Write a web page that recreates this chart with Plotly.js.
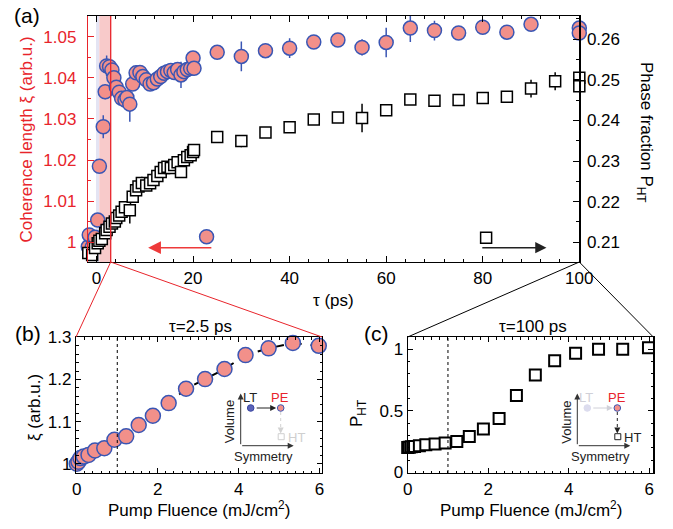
<!DOCTYPE html>
<html>
<head>
<meta charset="utf-8">
<script src="https://cdn.plot.ly/plotly-3.0.1.min.js"></script>
<style>html,body{margin:0;padding:0;background:#fff;}#plot{width:673px;height:529px;}</style>
</head>
<body>
<div id="plot"></div>
<script>
// ---------- data: panel (a) ----------
var tauCircle = [-1.7,-1.5,-0.9,-0.3,0.25,0.6,1.4,1.8,2.1,2.7,3.2,3.6,4.1,4.7,5.2,5.9,6.3,6.9,7.5,8.2,9.0,9.6,10.3,11.1,11.8,12.6,13.3,14.0,14.7,15.4,16.1,16.8,17.5,18.1,18.8,19.5,20.0,20.2,25,30,35,40,45,50,55,60,65,70,75,80,85,90,100,100];
var xiTau = [0.9989,1.0018,0.9988,1.0012,1.0054,1.0185,1.0281,1.0366,1.0429,1.0427,1.0419,1.0400,1.0377,1.0365,1.0350,1.0346,1.0352,1.0336,1.0385,1.0412,1.0413,1.0403,1.0395,1.0385,1.0388,1.0397,1.0403,1.0411,1.0415,1.0418,1.0413,1.0420,1.0407,1.0415,1.0420,1.0423,1.0448,1.0423,1.0462,1.0452,1.0466,1.0472,1.0487,1.0492,1.0474,1.0486,1.0521,1.0515,1.0509,1.0523,1.0511,1.0530,1.0521,1.0509];
var xiTauErr = [0,0,0,0,0,0,0.0028,0.0018,0.0025,0.0012,0,0,0,0,0,0,0.0008,0.0043,0,0.0018,0,0,0,0,0,0,0,0,0,0,0,0,0.0032,0,0,0,0,0,0.0006,0.0036,0.0012,0.0024,0.0006,0.0005,0.002,0.0036,0.0034,0.0024,0,0.0012,0,0,0,0];

var tauSquare = [-1.7,-0.9,-0.3,0.25,0.6,1.1,1.8,2.1,2.7,3.2,3.8,4.1,4.7,5.2,5.9,6.9,7.5,8.2,8.7,9.4,10.3,11.1,11.8,12.6,13.3,14.0,14.7,15.4,16.1,16.8,17.5,18.1,18.8,19.5,20.0,20.2,25,30,35,40,45,50,55,60,65,70,75,80,85,90,95,100,100];
var pTau = [0.2074,0.2069,0.2086,0.2098,0.2104,0.2108,0.2122,0.2130,0.2138,0.2146,0.2151,0.2160,0.2166,0.2175,0.2186,0.2179,0.2212,0.2228,0.2237,0.2246,0.2240,0.2245,0.2253,0.2263,0.2273,0.2283,0.2286,0.2283,0.2290,0.2297,0.2273,0.2302,0.2310,0.2314,0.2322,0.2327,0.2359,0.2349,0.2370,0.2383,0.2402,0.2407,0.2406,0.2425,0.2451,0.2448,0.2450,0.2455,0.2458,0.2478,0.2496,0.2505,0.2484];
var pTauErr = [0,0,0,0,0,0,0,0,0,0,0,0,0,0,0,0.0033,0,0,0,0.0015,0,0,0,0,0,0,0,0,0,0,0,0,0,0,0,0,0,0.0015,0,0,0,0.001,0.0035,0.001,0,0,0,0,0,0.0022,0.0022,0,0];

// legend keys in panel (a)
var keyCircle = {tau:[22.8], xi:[1.00136]};
var keySquare = {tau:[80.7], p:[0.2111]};

// ---------- data: panels (b) and (c) ----------
var fluence = [0,0.04,0.09,0.17,0.29,0.45,0.68,0.93,1.22,1.53,1.88,2.27,2.70,3.17,3.65,4.17,4.74,5.34,5.98];
var xiFluence = [1.000,1.005,1.0135,1.017,1.021,1.0315,1.037,1.057,1.065,1.092,1.114,1.144,1.178,1.201,1.225,1.258,1.274,1.287,1.280];
var pFluence = [0.203,0.205,0.208,0.211,0.216,0.224,0.230,0.238,0.251,0.292,0.352,0.437,0.624,0.792,0.908,0.967,1.0,1.0,1.013];

// tick labels
var tauTicks = [0,20,40,60,80,100];
var xiTicks = [1,1.01,1.02,1.03,1.04,1.05];
var xiTickText = ['1','1.01','1.02','1.03','1.04','1.05'];
var pTicks = [0.21,0.22,0.23,0.24,0.25,0.26];
var pTickText = ['0.21','0.22','0.23','0.24','0.25','0.26'];
var flTicks = [0,2,4,6];
var xiFlTicks = [1,1.1,1.2,1.3];
var xiFlTickText = ['1','1.1','1.2','1.3'];
var pFlTicks = [0,0.5,1];
var pFlTickText = ['0','0.5','1'];

// ---------- styling ----------
var W = 673, H = 529;
function fx(px){return px/W;}
function fy(py){return 1-py/H;}
var FONT = 'Liberation Sans, Arial, Helvetica, sans-serif';
var RED = '#e8242b';
var SALMON = '#f2908a';
var BLUE = '#3a56b4';

var boxA = {l:88, r:579.3, t:16, b:262};
var boxB = {l:76, r:322, t:337, b:473};
var boxC = {l:407.7, r:653.3, t:337, b:473};

var traces = [
  {x: tauSquare, y: pTau, xaxis:'x', yaxis:'y2', type:'scatter', mode:'markers', cliponaxis:false,
   marker:{symbol:'square', size:11, color:'white', line:{color:'black', width:1.5}},
   error_y:{type:'data', array:pTauErr, visible:true, color:'black', thickness:1.5, width:0}},
  {x: tauCircle, y: xiTau, xaxis:'x', yaxis:'y', type:'scatter', mode:'markers', cliponaxis:false,
   marker:{symbol:'circle', size:14, color:SALMON, line:{color:BLUE, width:1.5}},
   error_y:{type:'data', array:xiTauErr, visible:true, color:BLUE, thickness:1.5, width:0}},
  {x: keyCircle.tau, y: keyCircle.xi, xaxis:'x', yaxis:'y', type:'scatter', mode:'markers',
   marker:{symbol:'circle', size:14, color:SALMON, line:{color:BLUE, width:1.5}}},
  {x: keySquare.tau, y: keySquare.p, xaxis:'x', yaxis:'y2', type:'scatter', mode:'markers',
   marker:{symbol:'square', size:11, color:'white', line:{color:'black', width:1.5}}},
  {x: fluence, y: xiFluence, xaxis:'x2', yaxis:'y3', type:'scatter', mode:'lines+markers', cliponaxis:false,
   line:{color:'black', width:2, dash:'dash'},
   marker:{symbol:'circle', size:15, color:SALMON, line:{color:BLUE, width:1.5}}},
  {x: fluence, y: pFluence, xaxis:'x3', yaxis:'y4', type:'scatter', mode:'markers', cliponaxis:false,
   marker:{symbol:'square', size:11, color:'white', line:{color:'black', width:2}}}
];

var tickFont = {family:FONT, size:17, color:'black'};
function boxAxis(extra){
  var a = {showline:true, linecolor:'black', linewidth:1.2, mirror:'ticks', ticks:'inside',
    ticklen:5, tickwidth:1, tickcolor:'black', showgrid:false, zeroline:false, tickfont:tickFont,
    minor:{ticks:'inside', ticklen:2.5, tickcolor:'black'}};
  for (var k in extra) a[k] = extra[k];
  return a;
}

var layout = {
  width:W, height:H, autosize:false, showlegend:false,
  margin:{l:0, r:0, t:0, b:0}, paper_bgcolor:'white', plot_bgcolor:'rgba(0,0,0,0)',
  font:{family:FONT, size:17, color:'black'},
  xaxis: boxAxis({domain:[fx(boxA.l), fx(boxA.r)], anchor:'y', range:[-1.76,100],
    tickvals:tauTicks, ticklen:6, minor:{ticks:'inside', dtick:4, ticklen:3, tickcolor:'black'}}),
  yaxis: {domain:[fy(boxA.b), fy(boxA.t)], anchor:'x', range:[0.99521,1.05503],
    showline:true, linecolor:RED, linewidth:1.2, ticks:'inside', ticklen:6, tickcolor:RED,
    tickvals:xiTicks, ticktext:xiTickText, tickfont:{family:FONT, size:17, color:RED}, ticklabelstandoff:7,
    minor:{ticks:'inside', dtick:0.005, ticklen:3, tickcolor:RED},
    showgrid:false, zeroline:false},
  yaxis2: {overlaying:'y', side:'right', anchor:'x', range:[0.20516,0.26566],
    showline:true, linecolor:'black', linewidth:1.2, ticks:'inside', ticklen:6, tickcolor:'black',
    tickvals:pTicks, ticktext:pTickText, tickfont:tickFont, ticklabelstandoff:3,
    minor:{ticks:'inside', dtick:0.005, ticklen:3, tickcolor:'black'},
    showgrid:false, zeroline:false},
  xaxis2: boxAxis({domain:[fx(boxB.l), fx(boxB.r)], anchor:'y3', range:[-0.02,6.06], tickvals:flTicks,
    minor:{ticks:'inside', dtick:0.2, ticklen:2.5, tickcolor:'black'}}),
  yaxis3: boxAxis({domain:[fy(boxB.b), fy(boxB.t)], anchor:'x2', range:[0.978,1.301],
    tickvals:xiFlTicks, ticktext:xiFlTickText,
    minor:{ticks:'inside', dtick:0.02, ticklen:2.5, tickcolor:'black'}}),
  xaxis3: boxAxis({domain:[fx(boxC.l), fx(boxC.r)], anchor:'y4', range:[0,6.1], tickvals:flTicks,
    minor:{ticks:'inside', dtick:0.2, ticklen:2.5, tickcolor:'black'}}),
  yaxis4: boxAxis({domain:[fy(boxC.b), fy(boxC.t)], anchor:'x3', range:[-0.005,1.1],
    tickvals:pFlTicks, ticktext:pFlTickText,
    minor:{ticks:'inside', dtick:0.1, ticklen:2.5, tickcolor:'black'}}),
  shapes: [], annotations: []
};

var S = layout.shapes, A = layout.annotations;
// highlighted delay band in (a)
S.push({type:'rect', xref:'x', yref:'y domain', x0:-0.1, x1:0.58, y0:0, y1:1, fillcolor:'#e4e4f3', line:{width:0}, layer:'below'});
S.push({type:'rect', xref:'x', yref:'y domain', x0:0.58, x1:2.94, y0:0, y1:1, fillcolor:'#f8caca', line:{width:0}, layer:'below'});
S.push({type:'line', xref:'x', yref:'y domain', x0:2.94, x1:2.94, y0:0, y1:1, line:{color:RED, width:1.3}});
// dashed F=1 lines
S.push({type:'line', xref:'x2', yref:'y3 domain', x0:1, x1:1, y0:0, y1:1, line:{color:'black', width:1, dash:'dot'}});
S.push({type:'line', xref:'x3', yref:'y4 domain', x0:1, x1:1, y0:0, y1:1, line:{color:'black', width:1, dash:'dot'}});
// zoom connector lines
var bandPx = 110.7;
S.push({type:'line', xref:'paper', yref:'paper', x0:fx(bandPx), y0:fy(boxA.b), x1:fx(boxB.l), y1:fy(boxB.t), line:{color:RED, width:1}});
S.push({type:'line', xref:'paper', yref:'paper', x0:fx(bandPx), y0:fy(boxA.b), x1:fx(boxB.r), y1:fy(boxB.t), line:{color:RED, width:1}});
S.push({type:'line', xref:'paper', yref:'paper', x0:fx(boxA.r), y0:fy(boxA.b), x1:fx(boxC.l), y1:fy(boxC.t), line:{color:'black', width:1}});
S.push({type:'line', xref:'paper', yref:'paper', x0:fx(boxA.r), y0:fy(boxA.b), x1:fx(boxC.r), y1:fy(boxC.t), line:{color:'black', width:1}});

// arrows in (a)
A.push({xref:'x', yref:'y', x:10.7, y:0.99869, axref:'x', ayref:'y', ax:24.1, ay:0.99869, text:'', showarrow:true,
  arrowhead:2, arrowsize:1.6, arrowwidth:1.6, arrowcolor:'#ee3a3a', standoff:0});
A.push({xref:'x', yref:'y', x:93.2, y:0.99869, axref:'x', ayref:'y', ax:79.6, ay:0.99869, text:'', showarrow:true,
  arrowhead:2, arrowsize:1.6, arrowwidth:1.4, arrowcolor:'#222', standoff:0});

function txt(s, px, py, opt){
  var a = {xref:'paper', yref:'paper', x:fx(px), y:fy(py), text:s, showarrow:false,
    xanchor:'center', yanchor:'middle', font:{family:FONT, size:17, color:'black'}};
  if (opt) for (var k in opt) a[k] = opt[k];
  return a;
}
// axis titles
A.push(txt('Coherence length ξ (arb.u.)', 25.5, 140, {textangle:-90, font:{family:FONT, size:17, color:RED}}));
A.push(txt('Phase fraction P<sub>HT</sub>', 645, 132, {textangle:90}));
A.push(txt('τ (ps)', 333, 300));
A.push(txt('ξ (arb.u.)', 34, 408, {textangle:-90}));
A.push(txt('P<sub>HT</sub>', 358, 414, {textangle:-90}));
A.push(txt('Pump Fluence (mJ/cm<sup>2</sup>)', 199, 509));
A.push(txt('Pump Fluence (mJ/cm<sup>2</sup>)', 531, 509));
A.push(txt('τ=2.5 ps', 200, 326));
A.push(txt('τ=100 ps', 533, 326));
// panel labels
A.push(txt('(a)', 27, 15, {font:{family:FONT, size:21, color:'black'}}));
A.push(txt('(b)', 28, 333, {font:{family:FONT, size:21, color:'black'}}));
A.push(txt('(c)', 376, 333, {font:{family:FONT, size:21, color:'black'}}));

// ---------- insets ----------
function arrowPx(x0, y0, x1, y1, color, width){
  A.push({xref:'paper', yref:'paper', x:fx(x1), y:fy(y1), ax:x0-x1, ay:y0-y1, text:'', showarrow:true,
    arrowhead:2, arrowsize:1.2, arrowwidth:width||1, arrowcolor:color, standoff:0});
}
function dot(px, py, fill, edge){
  S.push({type:'circle', xref:'paper', yref:'paper', xsizemode:'pixel', ysizemode:'pixel',
    xanchor:fx(px), yanchor:fy(py), x0:-3.3, x1:3.3, y0:-3.3, y1:3.3, fillcolor:fill, line:{color:edge, width:1}});
}
function sq(px, py, edge){
  S.push({type:'rect', xref:'paper', yref:'paper', xsizemode:'pixel', ysizemode:'pixel',
    xanchor:fx(px), yanchor:fy(py), x0:-3, x1:3, y0:-3, y1:3, fillcolor:'white', line:{color:edge, width:1}});
}
function dashV(px, y0, y1, color){
  S.push({type:'line', xref:'paper', yref:'paper', x0:fx(px), x1:fx(px), y0:fy(y0), y1:fy(y1), line:{color:color, width:1, dash:'dot'}});
  arrowPx(px, y1-4, px, y1+3, color, 1);
}
function inset(ox, hiLT, hiHT){
  var base = 445.7, top = 393.5;
  arrowPx(ox, base, ox, top, '#333', 1);
  arrowPx(ox, base, ox+53, base, '#333', 1);
  A.push(txt('Volume', ox-11.5, 422, {textangle:-90, font:{family:FONT, size:13, color:'#222'}}));
  A.push(txt('Symmetry', ox+23, 456, {font:{family:FONT, size:13, color:'#222'}}));
  var ltC = hiLT ? '#222' : '#d0d0d8';
  var htC = hiHT ? '#222' : '#cfcfcf';
  A.push(txt('LT', ox+9, 397, {font:{family:FONT, size:13, color:ltC}}));
  A.push(txt('PE', ox+39.5, 397, {font:{family:FONT, size:13, color:RED}}));
  A.push(txt('HT', ox+45, 437, {xanchor:'left', font:{family:FONT, size:13, color:htC}}));
  dot(ox+10, 408, hiLT ? '#5a62b8' : '#dcdcee', hiLT ? '#3a46a0' : '#dcdcee');
  arrowPx(ox+14.5, 408, ox+35.5, 408, hiLT ? '#222' : '#d0d0d8', 1);
  dot(ox+40, 408, SALMON, BLUE);
  dashV(ox+40, 412, 430.5, hiHT ? '#222' : '#d2d2d2');
  sq(ox+40.5, 436.7, hiHT ? '#222' : '#cfcfcf');
}
inset(240.7, true, false);
inset(577.3, false, true);

Plotly.newPlot('plot', traces, layout, {staticPlot:true, displayModeBar:false});
</script>
</body>
</html>
